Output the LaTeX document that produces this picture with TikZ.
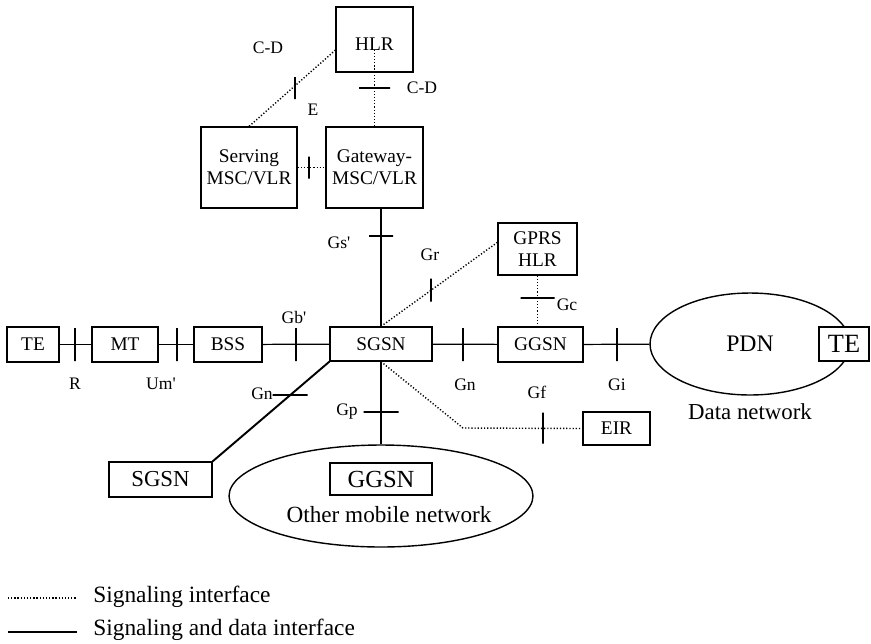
\documentclass[tikz,border=0pt]{standalone}
\usepackage{fontspec}
\setmainfont{Liberation Serif}
\usetikzlibrary{shapes.geometric, calc, positioning}

\begin{document}
\begin{tikzpicture}[x=0.02cm, y=-0.02cm,
    box/.style={draw, line width=0.7pt, inner sep=0pt, align=center, font=\fontsize{11}{12.5}\selectfont},
    bigbox/.style={box, font=\fontsize{15}{17}\selectfont},
    net/.style={draw, ellipse, line width=0.8pt, inner sep=0pt},
    data/.style={line width=0.7pt},
    sig/.style={line width=0.8pt, dash pattern=on 0.7pt off 1.1pt},
    vtick/.style={draw, line width=0.7pt, inner sep=0pt, minimum width=0pt, minimum height=#1},
    htick/.style={draw, line width=0.7pt, inner sep=0pt, minimum height=0pt, minimum width=#1},
    lbl/.style={inner sep=0pt, font=\fontsize{10}{12}\selectfont}]
    \useasboundingbox (0,0) rectangle (871,643);

    % core network boxes
    \node[box, minimum width=1.54cm, minimum height=1.30cm] (hlr) at (374.5,39.5) {\raisebox{-1mm}[\height][\depth]{HLR}};
    \node[box, minimum width=1.92cm, minimum height=1.62cm] (serving) at (249,167.5) {Serving\\MSC/VLR};
    \node[box, minimum width=1.94cm, minimum height=1.62cm] (gateway) at (374.5,167.5) {Gateway-\\MSC/VLR};
    \node[box, minimum width=1.58cm, minimum height=1.04cm] (gprshlr) at (537.5,249) {GPRS\\HLR};

    % the main chain
    \node[box, minimum width=1.04cm, minimum height=0.70cm] (te) at (33,344.5) {TE};
    \node[box, minimum width=1.32cm, minimum height=0.70cm] (mt) at (125,344.5) {MT};
    \node[box, minimum width=1.36cm, minimum height=0.70cm] (bss) at (228,344.5) {BSS};
    \node[box, minimum width=2.04cm, minimum height=0.68cm] (sgsn) at (381,344) {SGSN};
    \node[box, minimum width=1.70cm, minimum height=0.70cm] (ggsn) at (540.5,344.5) {GGSN};
    \node[box, minimum width=1.34cm, minimum height=0.66cm] (eir) at (616.5,428.5) {EIR};

    % data network
    \node[net, font=\fontsize{13.5}{15}\selectfont, minimum width=4.0cm, minimum height=2.04cm] (pdn) at (750,344) {PDN};
    \node[bigbox, fill=white, minimum width=1.00cm, minimum height=0.68cm] (tepdn) at (844,344) {TE};
    \node[font=\fontsize{13}{15}\selectfont, inner sep=0pt] (pdnname) at (750,412) {Data network};

    % other mobile network
    \node[net, minimum width=6.08cm, minimum height=2.04cm] (omn) at (381,496) {};
    \node[box, font=\fontsize{14}{16}\selectfont, minimum width=2.04cm, minimum height=0.64cm] (ggsnb) at (381,479) {GGSN};
    \node[font=\fontsize{13.2}{15}\selectfont, inner sep=0pt] (omnname) at (389,515) {Other mobile network};
    \node[box, font=\fontsize{13}{15}\selectfont, minimum width=2.06cm, minimum height=0.70cm] (sgsnb) at (160.5,479.5) {SGSN};

    % interfaces
    \draw[sig] ($(hlr.west)!0.32!(hlr.south west)$) -- (serving.north);
    \draw[sig] ([yshift=-0.2cm]hlr.center) -- (hlr.center |- gateway.north);
    \draw[sig] (serving.east) -- (gateway.west);
    \draw[data] (sgsn.north) -- (sgsn.north |- gateway.south);
    \draw[sig] (sgsn.north) -- ($(gprshlr.west)!0.25!(gprshlr.north west)$);
    \draw[sig] (gprshlr.south) -- (gprshlr.south |- ggsn.north);
    \draw[data] (te) -- (mt);
    \draw[data] (mt) -- (bss);
    \draw[data] (bss) -- (sgsn);
    \draw[data] (sgsn) -- (ggsn);
    \draw[data] (ggsn) -- (pdn);
    \draw[data, line width=1.1pt] (sgsn.south west) -- (sgsnb.north east);
    \draw[data] (sgsn.south) -- (omn.north);
    \coordinate (eirbend) at (463,428);
    \draw[sig] (sgsn.south) -- (eirbend) -- (eir.west);

    % reference point marks
    \node[vtick=0.44cm] (tickE) at (295,88) {};
    \node[htick=0.62cm] (tickCD) at (374.5,88) {};
    \node[vtick=0.44cm] (tickMSC) at (309,167.5) {};
    \node[htick=0.48cm] (tickGs) at (381,236) {};
    \node[vtick=0.46cm] (tickGr) at (431,290) {};
    \node[htick=0.68cm] (tickGc) at (537.5,298) {};
    \node[vtick=0.66cm] (tickR) at (75,344.5) {};
    \node[vtick=0.66cm] (tickUm) at (177,344.5) {};
    \node[vtick=0.66cm] (tickGb) at (296,344.5) {};
    \node[vtick=0.66cm] (tickGn) at (463,344.5) {};
    \node[vtick=0.66cm] (tickGi) at (617,344.5) {};
    \node[htick=0.70cm] (tickGnb) at (290,395) {};
    \node[htick=0.70cm] (tickGp) at (381,412) {};
    \node[vtick=0.62cm] (tickGf) at (543,428) {};

    % labels
    \node[lbl] (lblCDa) at (268,48) {C-D};
    \node[lbl] (lblE) at (313,110) {E};
    \node[lbl] (lblCDb) at (422,88) {C-D};
    \node[lbl] (lblGs) at (339,243) {Gs\textquotesingle};
    \node[lbl] (lblGr) at (430,255) {Gr};
    \node[lbl] (lblGc) at (567,305) {Gc};
    \node[lbl] (lblGb) at (294,317) {Gb\textquotesingle};
    \node[lbl] (lblR) at (75,384) {R};
    \node[lbl] (lblUm) at (161,384) {Um\textquotesingle};
    \node[lbl] (lblGnb) at (262,394) {Gn};
    \node[lbl] (lblGp) at (347,412) {Gp};
    \node[lbl] (lblGn) at (465,385) {Gn};
    \node[lbl] (lblGf) at (537,392) {Gf};
    \node[lbl] (lblGi) at (617,385) {Gi};

    % legend
    \coordinate (sigA) at (8,598);
    \coordinate (sigB) at (77,598);
    \coordinate (dataA) at (8,632);
    \coordinate (dataB) at (77,632);
    \draw[sig] (sigA) -- (sigB);
    \draw[data, line width=1.1pt] (dataA) -- (dataB);
    \node[anchor=west, inner sep=0pt, font=\fontsize{13.3}{15}\selectfont] (sigtext) at (93,597) {Signaling interface};
    \node[anchor=west, inner sep=0pt, font=\fontsize{13.3}{15}\selectfont] (datatext) at (93,630) {Signaling and data interface};
\end{tikzpicture}
\end{document}
